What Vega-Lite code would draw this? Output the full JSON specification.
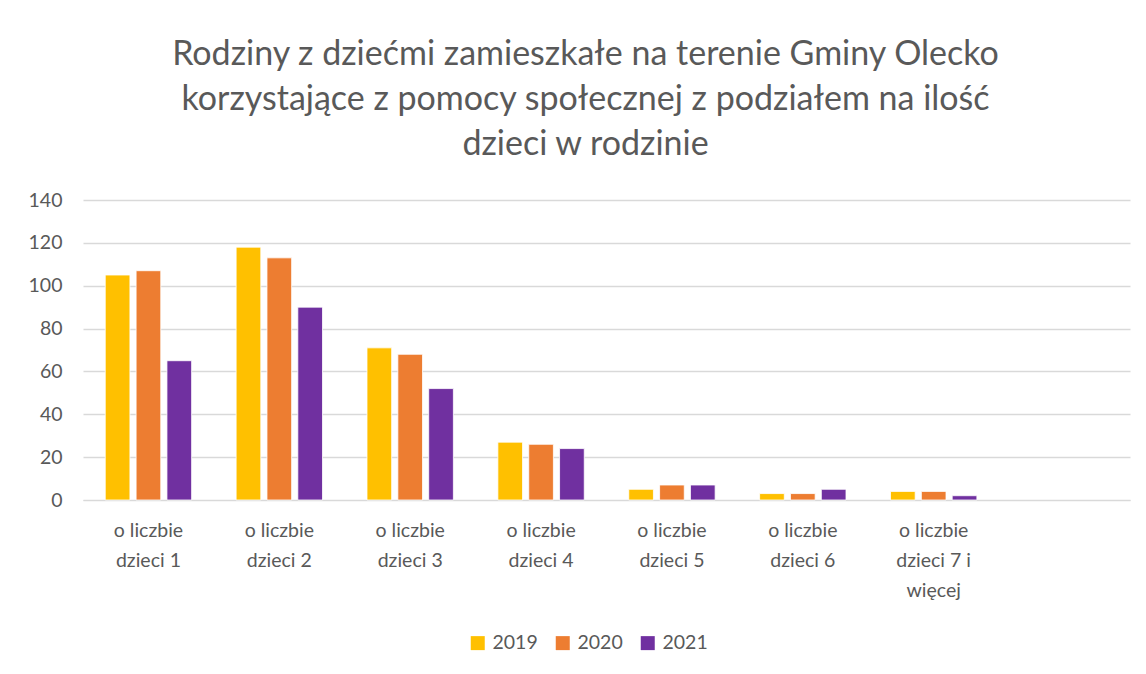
{
  "$schema": "https://vega.github.io/schema/vega-lite/v6.json",
  "width": 1047,
  "height": 300,
  "autosize": {"type": "none"},
  "padding": {"left": 83, "top": 200, "right": 16, "bottom": 174},
  "background": "white",
  "title": {
    "text": ["Rodziny z  dziećmi zamieszkałe na terenie Gminy Olecko", "korzystające z pomocy społecznej z podziałem na ilość", "dzieci w rodzinie"],
    "font": "Lato",
    "fontSize": 34,
    "fontWeight": "normal",
    "color": "#595959",
    "lineHeight": 45,
    "anchor": "middle",
    "dx": -21,
    "offset": 28
  },
  "config": {
    "view": {"stroke": null},
    "font": "Lato",
    "axis": {
      "labelFont": "Lato",
      "labelFontSize": 19.5,
      "labelColor": "#595959",
      "gridColor": "#d9d9d9",
      "gridWidth": 1.3,
      "domainColor": "#d9d9d9",
      "ticks": false,
      "title": null
    }
  },
  "data": {
    "values": [
      {"kategoria": "o liczbie dzieci 1", "rok": "2019", "liczba": 105},
      {"kategoria": "o liczbie dzieci 1", "rok": "2020", "liczba": 107},
      {"kategoria": "o liczbie dzieci 1", "rok": "2021", "liczba": 65},
      {"kategoria": "o liczbie dzieci 2", "rok": "2019", "liczba": 118},
      {"kategoria": "o liczbie dzieci 2", "rok": "2020", "liczba": 113},
      {"kategoria": "o liczbie dzieci 2", "rok": "2021", "liczba": 90},
      {"kategoria": "o liczbie dzieci 3", "rok": "2019", "liczba": 71},
      {"kategoria": "o liczbie dzieci 3", "rok": "2020", "liczba": 68},
      {"kategoria": "o liczbie dzieci 3", "rok": "2021", "liczba": 52},
      {"kategoria": "o liczbie dzieci 4", "rok": "2019", "liczba": 27},
      {"kategoria": "o liczbie dzieci 4", "rok": "2020", "liczba": 26},
      {"kategoria": "o liczbie dzieci 4", "rok": "2021", "liczba": 24},
      {"kategoria": "o liczbie dzieci 5", "rok": "2019", "liczba": 5},
      {"kategoria": "o liczbie dzieci 5", "rok": "2020", "liczba": 7},
      {"kategoria": "o liczbie dzieci 5", "rok": "2021", "liczba": 7},
      {"kategoria": "o liczbie dzieci 6", "rok": "2019", "liczba": 3},
      {"kategoria": "o liczbie dzieci 6", "rok": "2020", "liczba": 3},
      {"kategoria": "o liczbie dzieci 6", "rok": "2021", "liczba": 5},
      {"kategoria": "o liczbie dzieci 7 i więcej", "rok": "2019", "liczba": 4},
      {"kategoria": "o liczbie dzieci 7 i więcej", "rok": "2020", "liczba": 4},
      {"kategoria": "o liczbie dzieci 7 i więcej", "rok": "2021", "liczba": 2}
    ]
  },
  "mark": {"type": "bar", "stroke": "white", "strokeWidth": 0.8},
  "encoding": {
    "x": {
      "field": "kategoria",
      "type": "nominal",
      "sort": null,
      "scale": {
        "domain": ["o liczbie dzieci 1", "o liczbie dzieci 2", "o liczbie dzieci 3", "o liczbie dzieci 4", "o liczbie dzieci 5", "o liczbie dzieci 6", "o liczbie dzieci 7 i więcej", " "],
        "paddingInner": 0.34,
        "paddingOuter": 0.17
      },
      "axis": {
        "labelAngle": 0,
        "labelPadding": 21,
        "labelBaseline": "top",
        "labelLineHeight": 30,
        "domain": true,
        "grid": false,
        "labelExpr": "datum.value == 'o liczbie dzieci 7 i więcej' ? ['o liczbie', 'dzieci 7 i', 'więcej'] : (datum.value == ' ' ? '' : [slice(datum.value, 0, 9), slice(datum.value, 10)])"
      }
    },
    "xOffset": {
      "field": "rok",
      "type": "nominal",
      "scale": {"paddingInner": 0.2, "paddingOuter": 0}
    },
    "y": {
      "field": "liczba",
      "type": "quantitative",
      "scale": {"domain": [0, 140]},
      "axis": {
        "values": [0, 20, 40, 60, 80, 100, 120, 140],
        "domain": false,
        "grid": true,
        "labelPadding": 21
      }
    },
    "color": {
      "field": "rok",
      "type": "nominal",
      "scale": {"domain": ["2019", "2020", "2021"], "range": ["#ffc000", "#ed7d31", "#7030a0"]},
      "legend": {
        "title": null,
        "orient": "none",
        "direction": "horizontal",
        "legendX": 385,
        "legendY": 433,
        "symbolType": "square",
        "symbolSize": 196,
        "symbolStrokeWidth": 0,
        "labelFont": "Lato",
        "labelFontSize": 19.5,
        "labelColor": "#595959",
        "labelOffset": 5,
        "columnPadding": 15
      }
    }
  }
}
